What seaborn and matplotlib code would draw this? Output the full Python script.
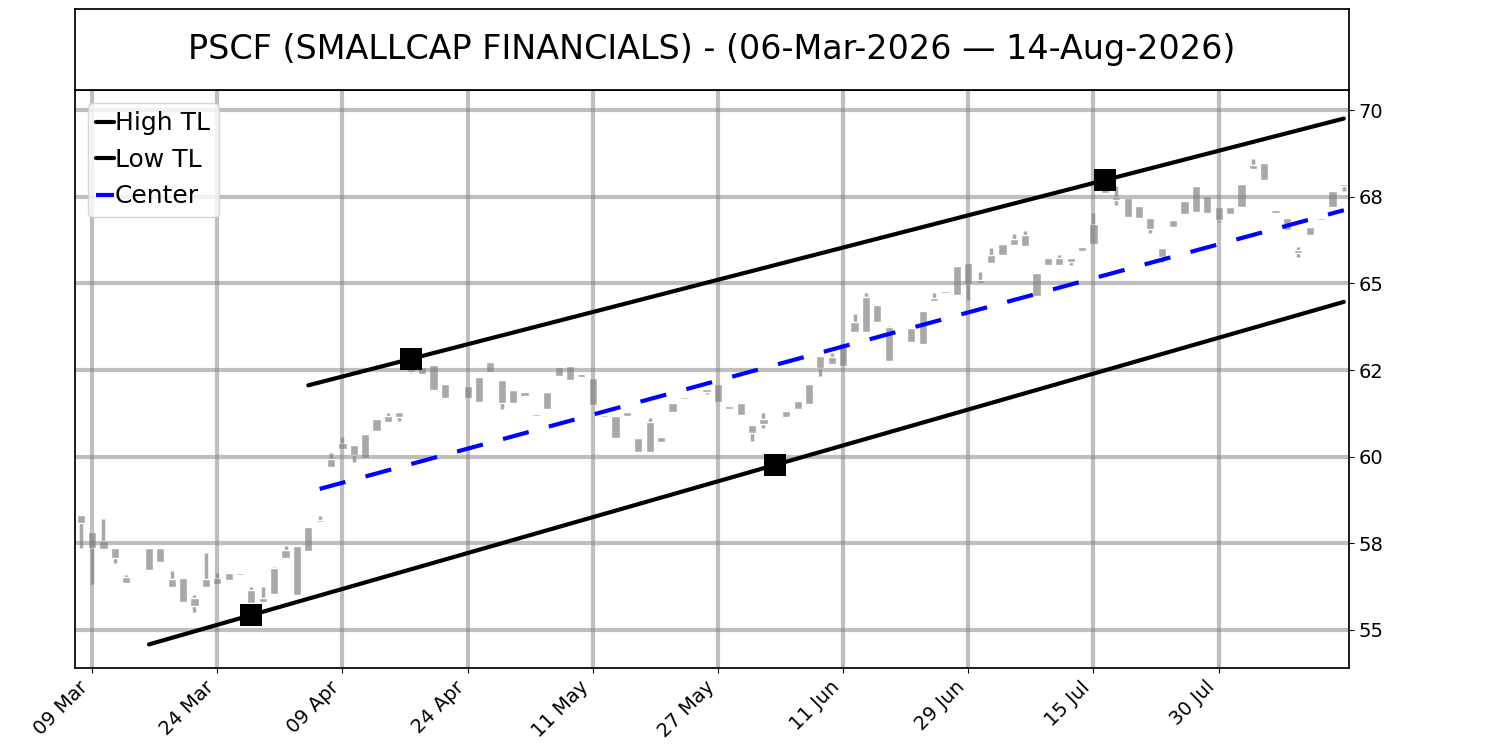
import numpy as np
import pandas as pd
import seaborn as sns
import matplotlib.pyplot as plt
import matplotlib.ticker as ticker

sns.set_style("ticks")
plt.rcParams['font.family'] = ['DejaVu Sans']
plt.rcParams['text.color'] = 'black'

title = "PSCF (SMALLCAP FINANCIALS) - (06-Mar-2026 \u2014 14-Aug-2026)"
start_date = "2026-03-06"
end_date = "2026-08-14"
holidays = ["2026-04-03", "2026-05-25", "2026-06-19", "2026-07-03"]

# daily candles
opens = [58.32, 57.82, 57.33, 57.36, 56.35, 56.42, 56.73, 57.36, 56.47, 56.49,
         55.92, 56.23, 56.32, 56.44, 56.63, 56.16, 55.82, 56.05, 57.09, 57.43,
         57.29, 58.12, 59.69, 60.21, 60.34, 59.96, 60.74, 60.99, 61.14, 62.45,
         62.60, 62.65, 62.10, 62.03, 62.05, 61.59, 62.43, 62.21, 61.92, 61.86,
         61.23, 61.37, 62.34, 62.62, 62.38, 62.26, 61.20, 61.17, 61.16, 60.53,
         60.13, 60.56, 61.30, 61.66, 61.58, 61.86, 62.10, 61.45, 61.54, 60.91,
         60.94, 59.95, 61.14, 61.38, 61.52, 62.55, 62.67, 62.62, 63.59, 63.61,
         64.38, 63.75, 63.45, 63.32, 63.24, 64.50, 64.72, 64.66, 65.60, 65.00,
         65.58, 65.82, 66.11, 66.39, 65.29, 65.53, 65.72, 65.62, 65.93, 66.15,
         67.60, 67.50, 67.45, 67.23, 66.88, 66.01, 66.62, 67.00, 67.07, 67.52,
         67.19, 66.99, 67.19, 68.30, 68.48, 67.12, 66.90, 65.87, 66.39, 66.83,
         67.21, 67.81]
closes = [58.08, 57.36, 57.57, 57.07, 56.54, 56.38, 57.36, 56.95, 56.25, 55.82,
          55.68, 56.47, 56.51, 56.64, 56.59, 55.78, 55.92, 56.80, 57.31, 56.01,
          57.96, 58.18, 59.92, 60.39, 60.05, 60.65, 61.08, 61.17, 61.29, 62.70,
          62.38, 61.91, 61.68, 62.07, 61.68, 62.29, 62.74, 61.54, 61.54, 61.76,
          61.16, 61.86, 62.60, 62.21, 62.31, 61.49, 61.15, 60.53, 61.30, 60.13,
          61.01, 60.41, 61.56, 61.71, 61.54, 61.94, 61.59, 61.37, 61.20, 60.67,
          61.09, 59.85, 61.32, 61.61, 62.09, 62.90, 62.88, 63.27, 63.89, 64.62,
          63.89, 62.77, 63.48, 63.72, 64.20, 64.57, 64.78, 65.51, 64.98, 65.10,
          65.82, 66.15, 66.28, 66.08, 64.63, 65.72, 65.53, 65.72, 66.04, 66.70,
          67.90, 67.42, 66.92, 66.88, 66.56, 65.77, 66.83, 67.39, 67.81, 67.04,
          66.83, 67.19, 67.86, 68.41, 67.98, 67.04, 66.54, 65.96, 66.62, 66.90,
          67.67, 67.87]
highs = [58.32, 57.82, 58.20, 57.36, 56.59, 56.42, 57.36, 57.36, 56.70, 56.49,
         56.01, 57.23, 56.64, 56.64, 56.63, 56.23, 56.23, 56.83, 57.43, 57.43,
         57.96, 58.29, 60.10, 60.56, 60.34, 60.65, 61.08, 61.27, 61.29, 62.82,
         62.60, 62.65, 62.10, 62.07, 62.05, 62.29, 62.74, 62.21, 61.92, 61.86,
         61.23, 61.86, 62.60, 62.62, 62.38, 62.26, 61.20, 61.17, 61.30, 60.53,
         61.11, 60.56, 61.56, 61.71, 61.58, 61.94, 62.10, 61.45, 61.54, 60.91,
         61.25, 59.98, 61.32, 61.61, 62.09, 62.90, 63.00, 63.27, 64.13, 64.73,
         64.38, 63.78, 63.48, 63.72, 64.20, 64.71, 64.78, 65.51, 65.60, 65.32,
         66.01, 66.15, 66.42, 66.51, 65.29, 65.72, 65.82, 65.72, 66.04, 67.04,
         67.98, 67.81, 67.45, 67.23, 66.88, 66.01, 66.83, 67.39, 67.81, 67.52,
         67.19, 67.19, 67.86, 68.58, 68.48, 67.12, 66.90, 66.06, 66.62, 66.90,
         67.67, 67.87]
lows = [57.36, 56.32, 57.33, 56.94, 56.35, 56.38, 56.73, 56.95, 56.25, 55.82,
        55.53, 56.23, 56.32, 56.44, 56.59, 55.43, 55.82, 56.05, 57.09, 56.01,
        57.29, 58.12, 59.69, 60.21, 59.86, 59.96, 60.74, 60.99, 61.04, 62.40,
        62.38, 61.91, 61.68, 62.03, 61.68, 61.59, 62.43, 61.38, 61.54, 61.76,
        61.16, 61.37, 62.34, 62.21, 62.31, 61.49, 61.15, 60.53, 61.16, 60.13,
        60.13, 60.41, 61.30, 61.66, 61.54, 61.80, 61.59, 61.37, 61.20, 60.46,
        60.82, 59.76, 61.14, 61.38, 61.52, 62.34, 62.67, 62.62, 63.59, 63.61,
        63.89, 62.77, 63.45, 63.32, 63.24, 64.50, 64.72, 64.66, 64.52, 65.00,
        65.58, 65.82, 66.11, 66.08, 64.63, 65.53, 65.53, 65.53, 65.93, 66.15,
        67.60, 67.26, 66.92, 66.88, 66.45, 65.61, 66.62, 67.00, 67.07, 67.04,
        66.78, 66.99, 67.19, 68.30, 67.98, 67.04, 66.54, 65.75, 66.39, 66.83,
        67.21, 67.67]

# pivots the trend lines go through (bar index, price)
high_pivot_idx = [29, 90]
high_pivot_px = [62.82, 67.98]
low_pivot_idx = [15, 61]
low_pivot_px = [55.43, 59.76]
lead_bars = 9
center_start = 21
tick_every = 11

dates = pd.bdate_range(start_date, end_date, freq="C", holidays=holidays)
df = pd.DataFrame({"date": dates, "open": opens, "high": highs,
                   "low": lows, "close": closes})
df["x"] = np.arange(len(df))
n = len(df)


def trend_line(idx, px, x0):
    slope = (px[1] - px[0]) / (idx[1] - idx[0])
    xs = np.arange(x0, n)
    return xs, px[0] + slope * (xs - idx[0])


hx, hy = trend_line(high_pivot_idx, high_pivot_px, high_pivot_idx[0] - lead_bars)
lx, ly = trend_line(low_pivot_idx, low_pivot_px, low_pivot_idx[0] - lead_bars)
cx = np.arange(center_start, n)
cy = (np.interp(cx, hx, hy) + np.interp(cx, lx, ly)) / 2

fig = plt.figure(figsize=(15, 7.5), dpi=100)
ax = fig.add_axes([0.05, 0.1097, 0.8493, 0.7703])
tax = fig.add_axes([0.05, 0.88, 0.8493, 0.108])

# title box
tax.set_xticks([])
tax.set_yticks([])
tax.text(0.5, 0.5, title, ha="center", va="center", fontsize=24,
         color="black", transform=tax.transAxes)
for s in tax.spines.values():
    s.set_color("black")
    s.set_linewidth(1.25)

# candles
body_lo = df[["open", "close"]].min(axis=1)
body_hi = df[["open", "close"]].max(axis=1)
ax.set_axisbelow("line")
ax.vlines(df["x"], df["low"], df["high"], color="darkgray", lw=2.5, zorder=1)
ax.bar(df["x"], body_hi - body_lo, bottom=body_lo, width=0.72,
       color="darkgray", zorder=1)

# trend lines
sns.lineplot(x=hx, y=hy, color="black", lw=3, label="High TL", ax=ax, zorder=3)
sns.lineplot(x=lx, y=ly, color="black", lw=3, label="Low TL", ax=ax, zorder=3)
sns.lineplot(x=cx, y=cy, color="blue", lw=3, linestyle=(0, (6.4, 5.0)),
             label="Center", ax=ax, zorder=3)
sns.scatterplot(x=high_pivot_idx + low_pivot_idx, y=high_pivot_px + low_pivot_px,
                marker="s", s=240, color="black", linewidth=0, zorder=4,
                legend=False, ax=ax)

ax.legend(loc="upper left", fontsize=18, handlelength=0.7, handletextpad=0.05,
          labelspacing=0.5, borderpad=0.35, labelcolor="black")

# axes
ax.grid(True, color="gray", alpha=0.5, lw=3)
ax.yaxis.tick_right()
ax.set_yticks(np.arange(55, 70.1, 2.5))
ax.yaxis.set_major_formatter(ticker.FormatStrFormatter("%.0f"))
tick_rows = df.iloc[1:n - 1:tick_every]
ax.set_xticks(tick_rows["x"])
ax.set_xticklabels(tick_rows["date"].dt.strftime("%d %b"),
                   rotation=45, ha="right")
ax.tick_params(labelsize=14, colors="black")
ax.set_xlim(-0.5, 111.45)
ax.set_ylim(53.91, 70.58)
ax.set_xlabel("")
ax.set_ylabel("")
for s in ax.spines.values():
    s.set_visible(True)
    s.set_color("black")
    s.set_linewidth(1.25)

fig.savefig("out.png", dpi=100)
